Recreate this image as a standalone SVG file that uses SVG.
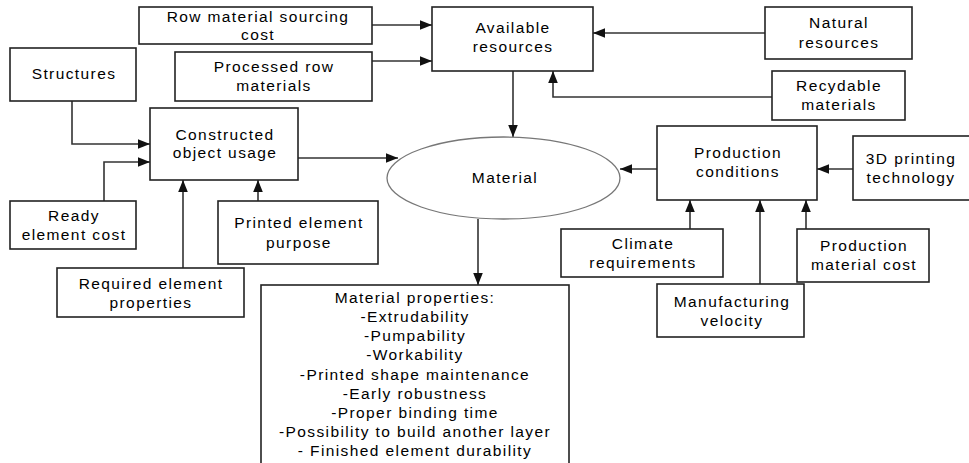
<svg xmlns="http://www.w3.org/2000/svg" width="969" height="463" viewBox="0 0 969 463">
<defs>
<style>
.b{fill:#fff;stroke:#222;stroke-width:1.6}
.e{fill:#fff;stroke:#777;stroke-width:1.3}
.t{font-family:"Liberation Sans",Arial,sans-serif;font-size:15.5px;letter-spacing:1.4px;fill:#000;text-anchor:middle}
.c{fill:none;stroke:#333;stroke-width:1.6}
</style>
<marker id="a" viewBox="0 0 10 10" refX="10" refY="5" markerWidth="12" markerHeight="12" markerUnits="userSpaceOnUse" orient="auto">
<path d="M0,1 L10,5 L0,9 Z" fill="#111"/>
</marker>
</defs>
<rect width="969" height="463" fill="#fff"/>
<g id="connectors">
<path class="c" marker-end="url(#a)" d="M372,25 H432"/>
<path class="c" marker-end="url(#a)" d="M372,61 H432"/>
<path class="c" marker-end="url(#a)" d="M765,33 H593"/>
<path class="c" marker-end="url(#a)" d="M772,97 H553 V71"/>
<path class="c" marker-end="url(#a)" d="M513,71 V137"/>
<path class="c" marker-end="url(#a)" d="M72,101 V144 H150"/>
<path class="c" marker-end="url(#a)" d="M104,201 V162 H150"/>
<path class="c" marker-end="url(#a)" d="M183,268 V180"/>
<path class="c" marker-end="url(#a)" d="M258,201 V180"/>
<path class="c" marker-end="url(#a)" d="M298,158 H398"/>
<path class="c" marker-end="url(#a)" d="M478,219 V285"/>
<path class="c" marker-end="url(#a)" d="M657,169 H620"/>
<path class="c" marker-end="url(#a)" d="M853,169 H817"/>
<path class="c" marker-end="url(#a)" d="M690,229 V200"/>
<path class="c" marker-end="url(#a)" d="M760,284 V200"/>
<path class="c" marker-end="url(#a)" d="M806,229 V200"/>
</g>
<g id="row-material-sourcing-cost">
<rect class="b" x="139" y="7" width="233" height="37"/>
<text class="t" x="258" y="22">Row material sourcing</text>
<text class="t" x="258" y="40">cost</text>
</g>
<g id="processed-row-materials">
<rect class="b" x="175" y="52" width="197" height="49"/>
<text class="t" x="274" y="72">Processed row</text>
<text class="t" x="274" y="91">materials</text>
</g>
<g id="available-resources">
<rect class="b" x="432" y="7" width="161" height="64"/>
<text class="t" x="513" y="33">Available</text>
<text class="t" x="513" y="52">resources</text>
</g>
<g id="natural-resources">
<rect class="b" x="765" y="7" width="147" height="52"/>
<text class="t" x="839" y="28">Natural</text>
<text class="t" x="839" y="48">resources</text>
</g>
<g id="recydable-materials">
<rect class="b" x="772" y="71" width="133" height="49"/>
<text class="t" x="839" y="91">Recydable</text>
<text class="t" x="839" y="110">materials</text>
</g>
<g id="structures">
<rect class="b" x="10" y="48" width="126" height="53"/>
<text class="t" x="74" y="79">Structures</text>
</g>
<g id="constructed-object-usage">
<rect class="b" x="150" y="108" width="148" height="72"/>
<text class="t" x="225" y="140">Constructed</text>
<text class="t" x="225" y="158">object usage</text>
</g>
<g id="material">
<ellipse class="e" cx="503.5" cy="178" rx="116.5" ry="41"/>
<text class="t" x="505" y="183">Material</text>
</g>
<g id="ready-element-cost">
<rect class="b" x="10" y="201" width="126" height="48"/>
<text class="t" x="74" y="221">Ready</text>
<text class="t" x="74" y="240">element cost</text>
</g>
<g id="printed-element-purpose">
<rect class="b" x="218" y="201" width="160" height="63"/>
<text class="t" x="299" y="228">Printed element</text>
<text class="t" x="299" y="248">purpose</text>
</g>
<g id="required-element-properties">
<rect class="b" x="57" y="268" width="187" height="49"/>
<text class="t" x="151" y="289">Required element</text>
<text class="t" x="151" y="308">properties</text>
</g>
<g id="material-properties">
<rect class="b" x="261" y="285" width="308" height="190"/>
<text class="t" x="415" y="303">Material properties:</text>
<text class="t" x="415" y="322">-Extrudability</text>
<text class="t" x="415" y="341">-Pumpability</text>
<text class="t" x="415" y="360">-Workability</text>
<text class="t" x="415" y="380">-Printed shape maintenance</text>
<text class="t" x="415" y="399">-Early robustness</text>
<text class="t" x="415" y="418">-Proper binding time</text>
<text class="t" x="415" y="437">-Possibility to build another layer</text>
<text class="t" x="415" y="456">- Finished element durability</text>
</g>
<g id="production-conditions">
<rect class="b" x="657" y="126" width="160" height="74"/>
<text class="t" x="738" y="158">Production</text>
<text class="t" x="738" y="177">conditions</text>
</g>
<g id="3d-printing-technology">
<rect class="b" x="853" y="136" width="130" height="64"/>
<text class="t" x="911" y="164">3D printing</text>
<text class="t" x="911" y="183">technology</text>
</g>
<g id="climate-requirements">
<rect class="b" x="561" y="229" width="162" height="48"/>
<text class="t" x="643" y="249">Climate</text>
<text class="t" x="643" y="268">requirements</text>
</g>
<g id="manufacturing-velocity">
<rect class="b" x="657" y="284" width="147" height="53"/>
<text class="t" x="732" y="307">Manufacturing</text>
<text class="t" x="732" y="326">velocity</text>
</g>
<g id="production-material-cost">
<rect class="b" x="797" y="229" width="132" height="53"/>
<text class="t" x="864" y="251">Production</text>
<text class="t" x="864" y="270">material cost</text>
</g>
</svg>
